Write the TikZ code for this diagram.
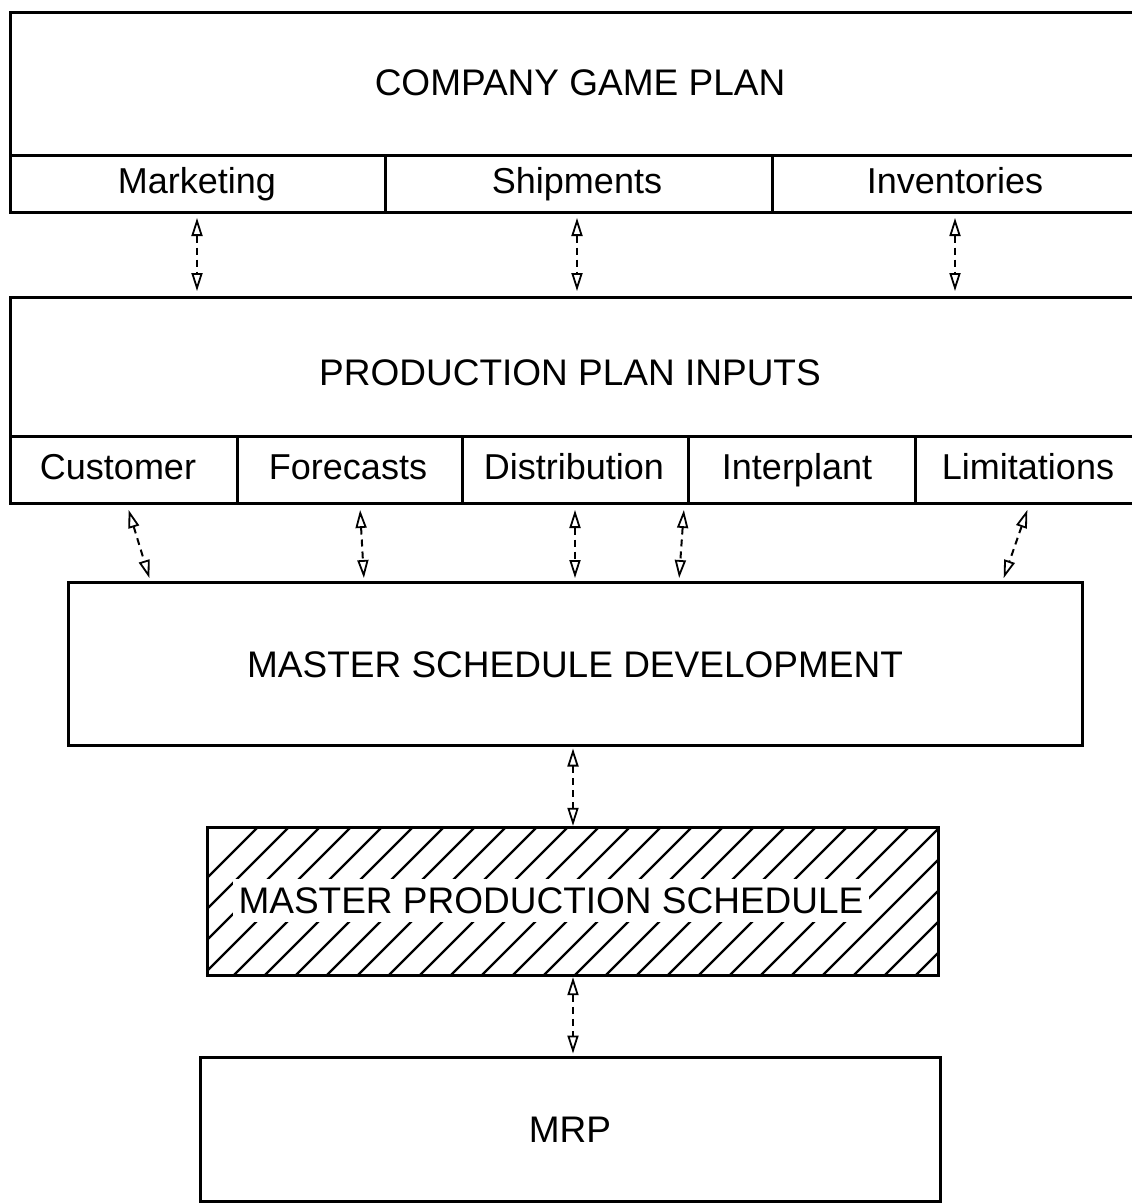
\documentclass[tikz,border=0pt]{standalone}
\usepackage{fontspec}
\setmainfont{Liberation Sans}
\usetikzlibrary{arrows.meta}

\tikzset{
  frame/.style={line width=3pt, line cap=rect},
  title/.style={font=\fontsize{37}{42}\selectfont, text height=27pt, text depth=0pt},
  label/.style={font=\fontsize{36}{42}\selectfont, text height=26pt, text depth=7pt},
  boxnode/.style={draw, line width=3pt, inner sep=0pt, outer sep=1.5pt},
  tip/.style={Triangle[open,length=18pt,width=11pt,line width=1.8pt]},
  flow/.style={line width=2pt, dash pattern=on 7pt off 5pt,
    {Triangle[open,length=18pt,width=11pt,line width=1.8pt]}-{Triangle[open,length=18pt,width=11pt,line width=1.8pt]},
    shorten >=2pt, shorten <=2pt},
  hatch/.style={line width=2.4pt}
}

\begin{document}
\begin{tikzpicture}[x=1pt,y=-1pt]
\useasboundingbox (0,0) rectangle (1132,1203);

% ---------- Company game plan ----------
\draw[frame] (1140,12) -- (10,12) -- (10,212) -- (1140,212);
\draw[frame] (10,155) -- (1140,155);
\draw[frame] (385,155) -- (385,212);
\draw[frame] (772,155) -- (772,212);
\node[title] (game) at (580,82) {COMPANY GAME PLAN};
\node[label] (mkt) at (197,184) {Marketing};
\node[label] (ship) at (577,184) {Shipments};
\node[label] (inv) at (955,184) {Inventories};
\coordinate (mktB) at (197,216);
\coordinate (shipB) at (577,216);
\coordinate (invB) at (955,216);

% ---------- Production plan inputs ----------
\draw[frame] (1140,297) -- (10,297) -- (10,503) -- (1140,503);
\draw[frame] (10,436) -- (1140,436);
\foreach \xx in {237,462,688,915}
  \draw[frame] (\xx,436) -- (\xx,503);
\node[title] (ppi) at (570,372) {PRODUCTION PLAN INPUTS};
\coordinate (mktT) at (197,293);
\coordinate (shipT) at (577,293);
\coordinate (invT) at (955,293);
\node[label] (cust) at (118,470) {Customer};
\node[label] (fore) at (348,470) {Forecasts};
\node[label] (dist) at (574,470) {Distribution};
\node[label] (inter) at (797,470) {Interplant};
\node[label] (lim) at (1028,470) {Limitations};
\coordinate (custB) at (128,508);
\coordinate (foreB) at (360,508);
\coordinate (distB) at (575,508);
\coordinate (interB) at (684,508);
\coordinate (limB) at (1028,508);

% ---------- Master schedule development ----------
\node[boxnode, minimum width=1014pt, minimum height=163pt] (msd) at (575,663.5) {};
\node[title] at (msd.center) {MASTER SCHEDULE DEVELOPMENT};
\coordinate (custT) at (150,580);
\coordinate (foreT) at (364,580);
\coordinate (distT) at (575,580);
\coordinate (interT) at (679,580);
\coordinate (limT) at (1003,580);

% ---------- Master production schedule (hatched) ----------
\node[minimum width=730pt, minimum height=147pt, inner sep=0pt] (mps) at (573,901.5) {};
\begin{scope}
  \clip (mps.south west) rectangle (mps.north east);
  \foreach \k in {0,...,30}
    \draw[hatch] ({100+\k*31},985) -- ({100+\k*31+170},815);
\end{scope}
\draw[frame] (mps.south west) rectangle (mps.north east);
\node[title, fill=white, inner xsep=6pt, inner ysep=8pt] (mpstext) at (551,900) {MASTER PRODUCTION SCHEDULE};

% ---------- MRP ----------
\node[boxnode, minimum width=740pt, minimum height=144pt] (mrp) at (570,1129) {};
\node[title] at (mrp.center) {MRP};

% ---------- Connectors ----------
\draw[flow] (mktB) -- (mktT);
\draw[flow] (shipB) -- (shipT);
\draw[flow] (invB) -- (invT);
\draw[flow] (custB) -- (custT);
\draw[flow] (foreB) -- (foreT);
\draw[flow] (distB) -- (distT);
\draw[flow] (interB) -- (interT);
\draw[flow] (limB) -- (limT);
\draw[flow] (msd.south -| mps.north) coordinate (a) -- (a |- mps.north);
\draw[flow] (mps.south) -- (mps.south |- mrp.north);
\end{tikzpicture}
\end{document}
